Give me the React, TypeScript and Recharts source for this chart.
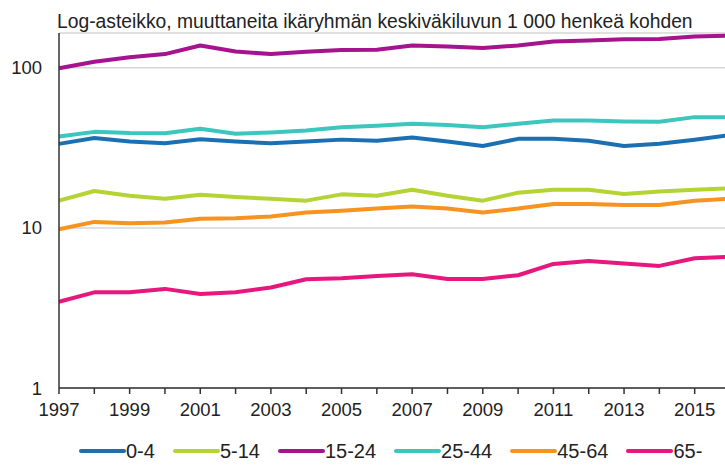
import React from 'react';
import { LineChart, Line, XAxis, YAxis, CartesianGrid, Legend } from 'recharts';

const years = [1997, 1998, 1999, 2000, 2001, 2002, 2003, 2004, 2005, 2006, 2007, 2008, 2009, 2010, 2011, 2012, 2013, 2014, 2015, 2016];
const ageGroups = ['0-4', '5-14', '15-24', '25-44', '45-64', '65-'];
const colors = ['#1b70b3', '#b4d334', '#a5138f', '#3cc6bd', '#f7931e', '#e8177d'];

const v0_4 = [33.5, 36.4, 34.6, 33.8, 35.8, 34.6, 33.8, 34.6, 35.6, 35.0, 36.7, 34.6, 32.5, 36.0, 36.0, 35.0, 32.5, 33.5, 35.5, 38.0];
const v5_14 = [14.8, 17.0, 15.9, 15.2, 16.1, 15.6, 15.2, 14.8, 16.2, 15.9, 17.3, 15.9, 14.8, 16.6, 17.3, 17.3, 16.3, 16.9, 17.3, 17.7];
const v15_24 = [99.5, 109, 116.5, 121.8, 137.8, 126.4, 121.8, 126, 129, 129.6, 137.8, 136, 132.8, 137.8, 146, 148, 151, 151.5, 157, 159];
const v25_44 = [37.2, 39.8, 39.1, 39.0, 41.6, 38.7, 39.5, 40.6, 42.6, 43.4, 44.7, 44.0, 42.6, 44.7, 46.9, 46.9, 46.2, 46.0, 49.2, 49.0];
const v45_64 = [9.8, 10.9, 10.7, 10.8, 11.4, 11.5, 11.8, 12.5, 12.8, 13.2, 13.6, 13.2, 12.5, 13.2, 14.1, 14.1, 13.9, 13.9, 14.8, 15.2];
const v65 = [3.46, 3.96, 3.96, 4.16, 3.87, 3.96, 4.24, 4.78, 4.85, 5.0, 5.14, 4.8, 4.8, 5.06, 5.96, 6.22, 6.0, 5.79, 6.46, 6.6];

const seriesValues = [v0_4, v5_14, v15_24, v25_44, v45_64, v65];
const yTicks = [1, 10, 100];
const title = 'Log-asteikko, muuttaneita ikäryhmän keskiväkiluvun 1 000 henkeä kohden';

const data = years.map((year, i) => {
  const row: Record<string, number> = { year };
  ageGroups.forEach((g, k) => {
    row[g] = seriesValues[k][i];
  });
  return row;
});

const FONT = '"Liberation Sans", Arial, sans-serif';

const LegendContent = () => (
  <div style={{ display: 'flex', alignItems: 'center', marginLeft: 79, fontFamily: FONT, fontSize: 20, color: '#222' }}>
    {ageGroups.map((g, k) => (
      <div key={g} style={{ display: 'flex', alignItems: 'center', marginRight: 18 }}>
        <svg width={47} height={6} style={{ display: 'block' }}>
          <line x1={2} y1={3} x2={45} y2={3} stroke={colors[k]} strokeWidth={4} strokeLinecap="round" />
        </svg>
        <span style={{ lineHeight: '20px' }}>{g}</span>
      </div>
    ))}
  </div>
);

export default function App() {
  return (
    <div style={{ position: 'absolute', left: 0, top: 0, width: 725, height: 466, overflow: 'hidden', background: '#fff' }}>
      <div style={{ position: 'absolute', left: 57, top: 12, fontFamily: FONT, fontSize: 19.3, lineHeight: '19px', color: '#222', whiteSpace: 'nowrap' }}>
        {title}
      </div>
      <LineChart width={740} height={466} data={data} margin={{ top: 33, right: 10, left: 0, bottom: 0 }}>
        <CartesianGrid vertical={false} stroke="#d6d6d6" strokeWidth={1.5} />
        <XAxis
          dataKey="year"
          type="number"
          domain={[1997, 2016]}
          ticks={years}
          interval={0}
          tickFormatter={(v: number) => ((v - 1997) % 2 === 0 ? String(v) : '')}
          stroke="#333"
          strokeWidth={1.5}
          tickSize={6}
          tickMargin={9}
          tick={{ fill: '#222', fontSize: 18.5, fontFamily: FONT }}
          height={78}
        />
        <YAxis
          scale="log"
          domain={[1, 165]}
          ticks={yTicks}
          allowDataOverflow
          width={59}
          stroke="#333"
          strokeWidth={1.5}
          tickLine={false}
          tickSize={0}
          tickMargin={17}
          tick={{ fill: '#222', fontSize: 18.5, fontFamily: FONT }}
        />
        <Legend
          layout="horizontal"
          verticalAlign="middle"
          align="center"
          wrapperStyle={{ top: 441, left: 0, width: 725 }}
          content={() => <LegendContent />}
        />
        {ageGroups.map((g, k) => (
          <Line
            key={g}
            type="linear"
            dataKey={g}
            stroke={colors[k]}
            strokeWidth={4}
            dot={false}
            isAnimationActive={false}
            strokeLinejoin="round"
          />
        ))}
      </LineChart>
    </div>
  );
}
